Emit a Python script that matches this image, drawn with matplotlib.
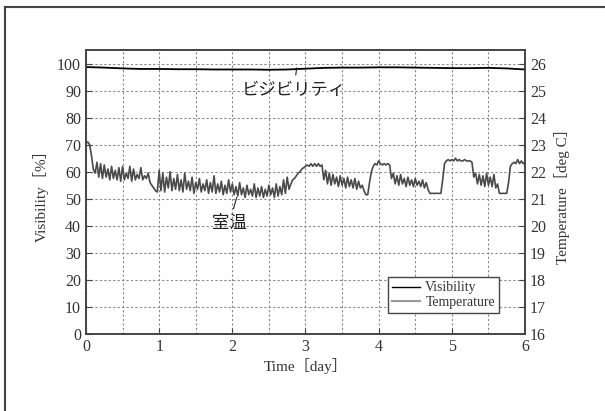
import numpy as np
import matplotlib
matplotlib.use("Agg")
import matplotlib.pyplot as plt
from matplotlib.lines import Line2D

# --- data ---
# visibility [%], sampled every 0.25 day
vis_time = [0.0, 0.25, 0.5, 0.75, 1.0, 1.25, 1.5, 1.75, 2.0, 2.25, 2.5, 2.75,
            3.0, 3.25, 3.5, 3.75, 4.0, 4.25, 4.5, 4.75, 5.0, 5.25, 5.5, 5.75, 6.0]
vis_value = [98.7, 98.5, 98.2, 98.0, 98.0, 97.9, 97.9, 97.8, 97.8, 97.8, 97.7, 97.8,
             98.1, 98.4, 98.5, 98.5, 98.6, 98.6, 98.5, 98.4, 98.3, 98.3, 98.4, 98.2, 97.8]

# room temperature [deg C], sampled every 0.025 day
temp_day0 = [23.05, 23.10, 23.00, 22.60, 22.10, 21.95, 22.35, 21.80, 22.30, 21.75,
             22.25, 21.80, 22.10, 21.70, 22.20, 21.75, 22.05, 21.70, 22.15, 21.65,
             22.20, 21.70, 21.95, 21.75, 22.20, 21.65, 22.10, 21.70, 21.90, 21.75,
             22.15, 21.70, 21.85, 21.75, 21.95, 21.60, 21.50, 21.40, 21.30, 21.25]
temp_day1 = [22.05, 21.30, 21.95, 21.25, 21.80, 21.40, 22.00, 21.30, 21.75, 21.35,
             21.90, 21.30, 21.70, 21.25, 21.95, 21.35, 21.65, 21.30, 21.80, 21.20,
             21.60, 21.35, 21.75, 21.25, 21.55, 21.30, 21.70, 21.20, 21.60, 21.25,
             21.85, 21.20, 21.55, 21.25, 21.65, 21.15, 21.50, 21.20, 21.70, 21.25]
temp_day2 = [21.55, 21.15, 21.45, 21.10, 21.60, 21.15, 21.40, 21.05, 21.50, 21.15,
             21.35, 21.10, 21.55, 21.05, 21.40, 21.10, 21.45, 21.05, 21.35, 21.10,
             21.50, 21.15, 21.40, 21.05, 21.55, 21.10, 21.45, 21.15, 21.70, 21.20,
             21.80, 21.35, 21.55, 21.70, 21.75, 21.85, 21.95, 22.00, 22.10, 22.15]
temp_day3 = [22.20, 22.25, 22.20, 22.30, 22.20, 22.30, 22.20, 22.30, 22.20, 22.25,
             21.70, 22.05, 21.55, 21.95, 21.50, 21.90, 21.55, 21.80, 21.45, 21.85,
             21.50, 21.75, 21.40, 21.80, 21.45, 21.70, 21.40, 21.75, 21.35, 21.65,
             21.40, 21.50, 21.30, 21.15, 21.15, 21.60, 22.00, 22.20, 22.30, 22.25]
temp_day4 = [22.40, 22.30, 22.25, 22.30, 22.25, 22.30, 22.25, 21.75, 21.95, 21.55,
             21.85, 21.50, 21.90, 21.55, 21.75, 21.45, 21.80, 21.50, 21.70, 21.45,
             21.75, 21.50, 21.65, 21.45, 21.70, 21.40, 21.60, 21.35, 21.20, 21.20,
             21.20, 21.20, 21.20, 21.20, 21.20, 21.70, 22.30, 22.40, 22.45, 22.40]
temp_day5 = [22.45, 22.40, 22.50, 22.40, 22.45, 22.40, 22.40, 22.45, 22.40, 22.40,
             22.40, 22.35, 21.80, 21.95, 21.55, 21.90, 21.50, 21.85, 21.45, 21.95,
             21.50, 21.80, 21.45, 21.90, 21.40, 21.55, 21.20, 21.20, 21.20, 21.20,
             21.20, 21.60, 22.20, 22.30, 22.35, 22.30, 22.45, 22.30, 22.40, 22.30,
             22.35]
temp_value = temp_day0 + temp_day1 + temp_day2 + temp_day3 + temp_day4 + temp_day5
temp_time = np.linspace(0, 6, len(temp_value))

serif = ["Liberation Serif", "Noto Sans CJK JP"]
jp = ["Noto Sans CJK JP"]
plt.rcParams["font.family"] = serif
text_col = "#333333"

fig = plt.figure(figsize=(6.05, 4.11), dpi=100)
ax = fig.add_axes([0.1421, 0.1873, 0.7257, 0.691])
ax2 = ax.twinx()

# outer frame of the figure (cut at right and bottom)
fig.add_artist(Line2D([5 / 605, 5 / 605], [0, 1 - 7 / 411], transform=fig.transFigure,
                      color="#444444", lw=1.5))
fig.add_artist(Line2D([5 / 605, 1], [1 - 7 / 411, 1 - 7 / 411], transform=fig.transFigure,
                      color="#444444", lw=1.5))

ax.plot(vis_time, vis_value, color="black", lw=1.3, zorder=3)
ax2.plot(temp_time, temp_value, color="#4a4a4a", lw=1.2)

ax.set_xlim(0, 6)
ax.set_ylim(0, 105)
ax2.set_ylim(16, 26.5)
ax.set_xticks(range(0, 7))
ax.set_xticks(np.arange(0.5, 6, 1), minor=True)
ax.set_yticks(range(0, 101, 10))
ax2.set_yticks(range(16, 27))

ax.grid(True, which="both", axis="x", color="#888888", linestyle=(0, (2, 2)), lw=0.8)
ax.grid(True, which="major", axis="y", color="#888888", linestyle=(0, (2, 2)), lw=0.8)
ax.tick_params(which="major", direction="in", length=4, labelsize=11.5, labelcolor=text_col, color="#444444")
ax.tick_params(which="minor", length=0)
ax2.tick_params(direction="in", length=4, labelsize=11.5, labelcolor=text_col, color="#444444")
for a in (ax, ax2):
    for sp in a.spines.values():
        sp.set_color("#444444")
        sp.set_linewidth(1.2)

ax.set_xlabel("Time［day］", fontsize=11, color=text_col, labelpad=2)
ax.set_ylabel("Visibility［%］", fontsize=11, color=text_col, labelpad=6)
ax2.set_ylabel("Temperature［deg C］", fontsize=11, color=text_col, labelpad=6)

ax.annotate("ビジビリティ", xy=(2.88, 98.4), xytext=(2.84, 90.4), family=jp,
            fontsize=12.5, color="#222222", ha="center", va="center",
            arrowprops=dict(arrowstyle="-", color="#222222", lw=0.8, shrinkA=2, shrinkB=0))
ax.annotate("室温", xy=(2.06, 50.5), xytext=(1.96, 41.0), family=jp,
            fontsize=12.5, color="#222222", ha="center", va="center",
            arrowprops=dict(arrowstyle="-", color="#222222", lw=0.8, shrinkA=2, shrinkB=0))

handles = [Line2D([], [], color="black", lw=1.0), Line2D([], [], color="#999999", lw=1.5)]
leg = ax2.legend(handles, ["Visibility", "Temperature"], loc="lower right",
                 bbox_to_anchor=(0.941, 0.074), borderaxespad=0, fontsize=10,
                 fancybox=False, framealpha=1, edgecolor="#444444", handlelength=2.0,
                 handletextpad=0.4, labelspacing=0.1, borderpad=0.3)
leg.get_frame().set_linewidth(1.0)
for t in leg.get_texts():
    t.set_color(text_col)

fig.savefig("out.png", dpi=100)
